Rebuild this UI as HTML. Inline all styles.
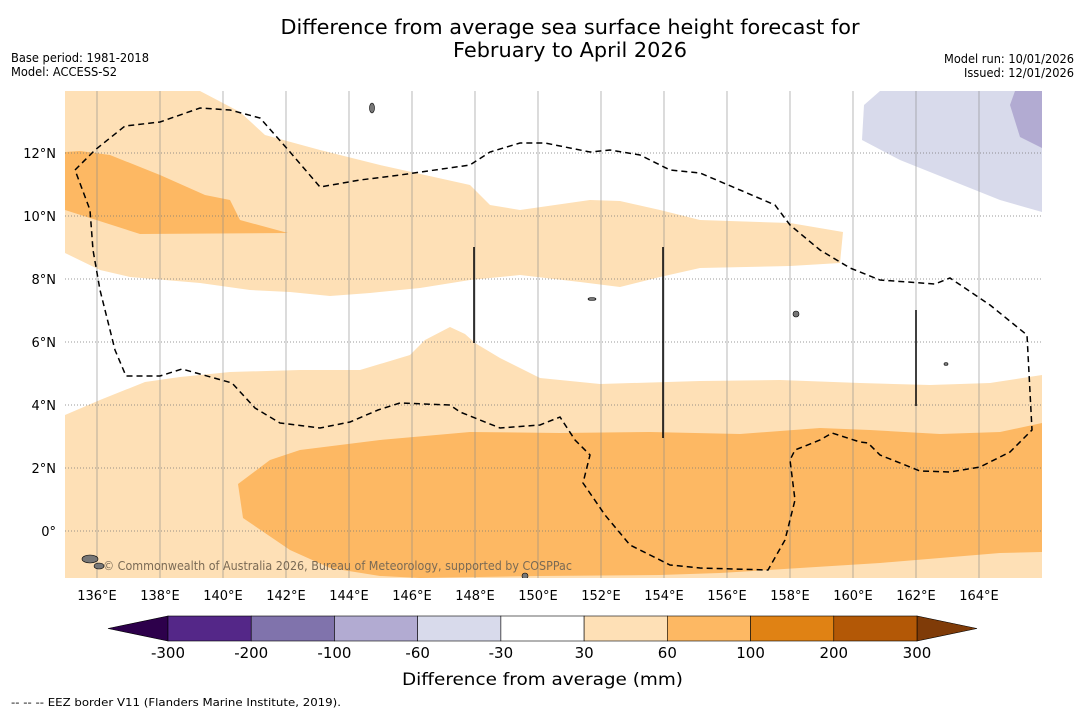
<!DOCTYPE html>
<html><head><meta charset="utf-8"><style>
body{margin:0;background:#fff;font-family:"Liberation Sans","DejaVu Sans",sans-serif}
svg{display:block}
text{font-family:"DejaVu Sans","Liberation Sans",sans-serif}
</style></head><body>
<svg id="c" width="1085" height="713" viewBox="0 0 1085 713">
<rect width="1085" height="713" fill="#fff"/>
<text x="570" y="34" font-size="20" text-anchor="middle" textLength="579" lengthAdjust="spacingAndGlyphs">Difference from average sea surface height forecast for</text>
<text x="570" y="57" font-size="20" text-anchor="middle" textLength="234" lengthAdjust="spacingAndGlyphs">February to April 2026</text>
<text x="11" y="62" font-size="12" textLength="138" lengthAdjust="spacingAndGlyphs">Base period: 1981-2018</text>
<text x="11" y="76" font-size="12" textLength="106" lengthAdjust="spacingAndGlyphs">Model: ACCESS-S2</text>
<text x="944" y="63" font-size="12" textLength="130" lengthAdjust="spacingAndGlyphs">Model run: 10/01/2026</text>
<text x="964" y="77" font-size="12" textLength="110" lengthAdjust="spacingAndGlyphs">Issued: 12/01/2026</text>
<defs><clipPath id="mc"><rect x="65" y="91" width="977" height="487"/></clipPath></defs>
<g clip-path="url(#mc)">
<polygon fill="#fee0b6" points="65,91 200,91 240,112 265,135 320,150 380,165 470,185 490,205 520,210 590,200 620,201 660,210 700,220 790,223 843,232 840,263 790,266 700,268 660,277 620,287 580,282 520,275 470,280 420,288 370,293 330,296 290,292 250,290 200,283 130,277 100,270 65,253"/>
<polygon fill="#fdb863" points="65,152 80,151 110,155 160,175 205,195 230,200 240,220 288,233 140,234 65,210"/>
<polygon fill="#fee0b6" points="65,415 100,400 145,382 180,377 230,372 300,370 360,370 410,355 425,340 450,327 465,334 475,343 500,358 540,378 600,384 700,381 780,380 860,383 930,385 990,383 1042,375 1042,578 65,578"/>
<polygon fill="#fdb863" points="238,484 270,460 300,450 380,440 470,432 560,433 650,432 740,434 820,428 870,430 940,434 1000,432 1042,423 1042,552 1000,553 940,558 880,563 800,568 720,573 660,575 540,576 420,578 380,576 330,568 290,550 243,518"/>
<polygon fill="#d8daeb" points="880,91 1042,91 1042,212 1000,200 950,180 900,160 862,140 864,105"/>
<polygon fill="#b2abd2" points="1015,91 1042,91 1042,148 1020,137 1010,105"/>
<g id="grid"></g>
<polyline fill="none" stroke="#000" stroke-width="1.5" stroke-dasharray="6,4" points="75,170 95,150 125,126 160,122 200,108 230,110 260,118 290,152 320,187 360,180 400,175 470,165 490,152 520,143 545,143 590,152 610,150 640,155 670,170 700,173 740,190 775,205 790,225 820,250 850,268 880,280 935,284 950,278 990,305 1027,335 1032,430 1010,452 980,467 950,472 920,471 880,455 868,443 860,442 832,433 820,440 795,450 790,460 795,500 785,540 768,570 700,568 670,565 630,545 605,515 583,483 590,455 575,440 560,417 540,425 500,428 480,420 460,412 450,405 400,403 378,410 350,422 320,428 280,423 255,408 232,383 182,369 160,376 126,376 115,350 100,290 93,250 90,210 75,170"/>
<line x1="474" y1="247" x2="474" y2="343" stroke="#000" stroke-width="1.5"/>
<line x1="663" y1="247" x2="663" y2="438" stroke="#000" stroke-width="1.5"/>
<line x1="916" y1="310" x2="916" y2="406" stroke="#000" stroke-width="1.5"/>
<g fill="#777" stroke="#000" stroke-width="0.6">
<ellipse cx="372" cy="108" rx="2.5" ry="5"/><ellipse cx="90" cy="559" rx="8" ry="4"/><ellipse cx="99" cy="566" rx="5" ry="3"/><ellipse cx="796" cy="314" rx="3" ry="3"/><ellipse cx="592" cy="299" rx="4" ry="1.5"/><ellipse cx="525" cy="576" rx="3" ry="3"/><ellipse cx="946" cy="364" rx="2" ry="1.5"/>
</g>
<text x="103" y="570" font-size="12" fill="#7a6a55" textLength="469" lengthAdjust="spacingAndGlyphs">© Commonwealth of Australia 2026, Bureau of Meteorology, supported by COSPPac</text>
</g>
<g id="axes"></g>
<g id="cbar"></g>
<text x="402" y="685" font-size="17" textLength="281" lengthAdjust="spacingAndGlyphs">Difference from average (mm)</text>
<text x="11" y="706" font-size="11" textLength="330" lengthAdjust="spacingAndGlyphs">--  --  -- EEZ border V11 (Flanders Marine Institute, 2019).</text>
</svg>
<script>
const lonTicks=[136,138,140,142,144,146,148,150,152,154,156,158,160,162,164];
const latTicks=[12,10,8,6,4,2,0];
const cbLevels=["-300","-200","-100","-60","-30","30","60","100","200","300"];
const cbColors=["#542788","#8073ac","#b2abd2","#d8daeb","#ffffff","#fee0b6","#fdb863","#e08214","#b35806"];
const ns="http://www.w3.org/2000/svg";
function xLon(l){return 65.5+(l-135)*31.5;}
function yLat(l){return 531-l*31.5;}
function mk(t,a,p){const e=document.createElementNS(ns,t);for(const k in a)e.setAttribute(k,a[k]);p.appendChild(e);return e;}
const grid=document.getElementById('grid'),axes=document.getElementById('axes'),cb=document.getElementById('cbar');
lonTicks.forEach(l=>{
 const ln=mk('line',{x1:xLon(l),x2:xLon(l),y1:91,y2:578,stroke:'#888','stroke-width':0.6},grid);
 
 
 const t=mk('text',{x:xLon(l),y:600,'font-size':13,'text-anchor':'middle'},axes);t.textContent=l+'°E';
 
 
});
latTicks.forEach(l=>{
 const ln=mk('line',{x1:65,x2:1042,y1:yLat(l),y2:yLat(l),stroke:'#777','stroke-width':0.8,'stroke-dasharray':'1,2'},grid);
 
 
 const t=mk('text',{x:56,y:yLat(l)+5,'font-size':13,'text-anchor':'end'},axes);t.textContent=l===0?'0°':l+'°N';
 
 
});
const x0=168,x1=917,w=(x1-x0)/cbColors.length,y0=616,h=25;
const lt=mk('polygon',{points:`${x0},${y0} ${x0},${y0+h} 108,${y0+h/2}`,fill:'#2d004b',stroke:'#000','stroke-width':0.6},cb);


const rt=mk('polygon',{points:`${x1},${y0} ${x1},${y0+h} 977,${y0+h/2}`,fill:'#7f3b08',stroke:'#000','stroke-width':0.6},cb);


cbColors.forEach((c,i)=>{
 const r=mk('rect',{x:x0+i*w,y:y0,width:w,height:h,fill:c,stroke:'#000','stroke-width':0.6},cb);
 
 
});
cbLevels.forEach((s,i)=>{
 const t=mk('text',{x:x0+i*w,y:658,'font-size':15,'text-anchor':'middle'},cb);t.textContent=s;
 
 
});
</script>
</body></html>
